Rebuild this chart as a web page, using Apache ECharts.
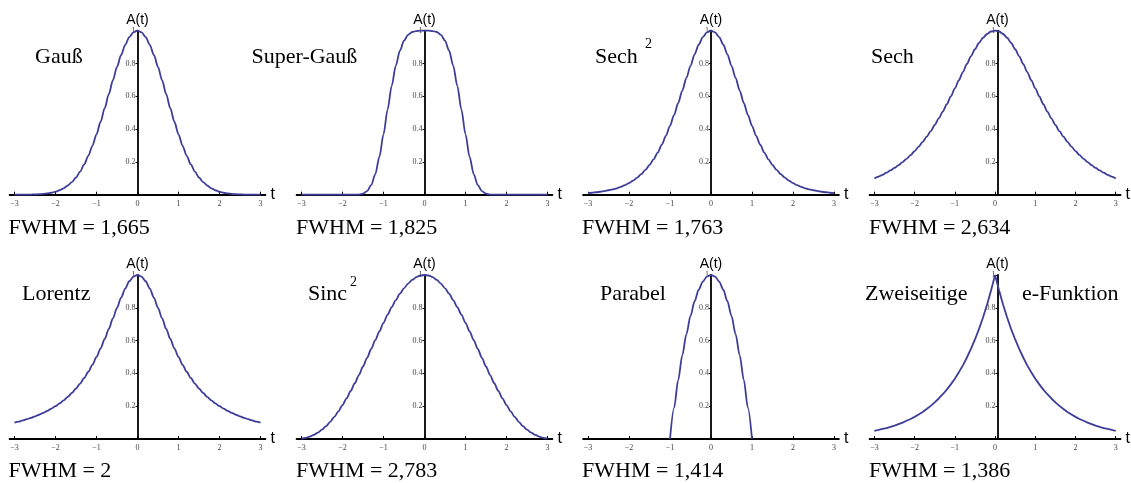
<!DOCTYPE html>
<html>
<head>
<meta charset="utf-8">
<title>Pulsformen</title>
<script src="https://cdn.jsdelivr.net/npm/echarts@6/dist/echarts.min.js"></script>
<style>
  html, body { margin: 0; padding: 0; background: #fff; }
  #chart { width: 1131px; height: 483px; }
</style>
</head>
<body>
<div id="chart"></div>
<script>
// Time axis samples, t = -3 ... 3
const tValues = [-3.0, -2.9, -2.8, -2.7, -2.6, -2.5, -2.4, -2.3, -2.2, -2.1,
  -2.0, -1.9, -1.8, -1.7, -1.6, -1.5, -1.4, -1.3, -1.2, -1.1,
  -1.0, -0.9, -0.8, -0.7, -0.6, -0.5, -0.4, -0.3, -0.2, -0.1,
  0.0, 0.1, 0.2, 0.3, 0.4, 0.5, 0.6, 0.7, 0.8, 0.9,
  1.0, 1.1, 1.2, 1.3, 1.4, 1.5, 1.6, 1.7, 1.8, 1.9,
  2.0, 2.1, 2.2, 2.3, 2.4, 2.5, 2.6, 2.7, 2.8, 2.9, 3.0];
const tParabel = [-1.0, -0.9, -0.8, -0.7, -0.6, -0.5, -0.4, -0.3, -0.2, -0.1,
  0.0, 0.1, 0.2, 0.3, 0.4, 0.5, 0.6, 0.7, 0.8, 0.9, 1.0];

// Pulse amplitudes A(t)
const gauss = [0, 0, 0, 0.001, 0.001, 0.002, 0.003, 0.005, 0.008, 0.012,
  0.018, 0.027, 0.039, 0.056, 0.077, 0.105, 0.141, 0.185, 0.237, 0.298,
  0.368, 0.445, 0.527, 0.613, 0.698, 0.779, 0.852, 0.914, 0.961, 0.990,
  1,
  0.990, 0.961, 0.914, 0.852, 0.779, 0.698, 0.613, 0.527, 0.445, 0.368,
  0.298, 0.237, 0.185, 0.141, 0.105, 0.077, 0.056, 0.039, 0.027, 0.018,
  0.012, 0.008, 0.005, 0.003, 0.002, 0.001, 0.001, 0, 0, 0];
const superGauss = [0, 0, 0, 0, 0, 0, 0, 0, 0, 0,
  0, 0, 0, 0, 0.001, 0.006, 0.022, 0.058, 0.126, 0.231,
  0.368, 0.519, 0.664, 0.787, 0.878, 0.939, 0.975, 0.992, 0.998, 1.000,
  1,
  1.000, 0.998, 0.992, 0.975, 0.939, 0.878, 0.787, 0.664, 0.519, 0.368,
  0.231, 0.126, 0.058, 0.022, 0.006, 0.001, 0, 0, 0, 0,
  0, 0, 0, 0, 0, 0, 0, 0, 0, 0];
const sech2 = [0.010, 0.012, 0.015, 0.018, 0.022, 0.027, 0.032, 0.039, 0.048, 0.058,
  0.071, 0.086, 0.104, 0.125, 0.151, 0.181, 0.216, 0.257, 0.305, 0.359,
  0.420, 0.487, 0.559, 0.635, 0.712, 0.786, 0.856, 0.915, 0.961, 0.990,
  1,
  0.990, 0.961, 0.915, 0.856, 0.786, 0.712, 0.635, 0.559, 0.487, 0.420,
  0.359, 0.305, 0.257, 0.216, 0.181, 0.151, 0.125, 0.104, 0.086, 0.071,
  0.058, 0.048, 0.039, 0.032, 0.027, 0.022, 0.018, 0.015, 0.012, 0.010];
const sech = [0.099, 0.110, 0.121, 0.134, 0.148, 0.163, 0.180, 0.199, 0.219, 0.241,
  0.266, 0.293, 0.322, 0.354, 0.388, 0.425, 0.465, 0.507, 0.552, 0.599,
  0.648, 0.698, 0.748, 0.797, 0.844, 0.887, 0.925, 0.957, 0.980, 0.995,
  1,
  0.995, 0.980, 0.957, 0.925, 0.887, 0.844, 0.797, 0.748, 0.698, 0.648,
  0.599, 0.552, 0.507, 0.465, 0.425, 0.388, 0.354, 0.322, 0.293, 0.266,
  0.241, 0.219, 0.199, 0.180, 0.163, 0.148, 0.134, 0.121, 0.110, 0.099];
const lorentz = [0.100, 0.106, 0.113, 0.121, 0.129, 0.138, 0.148, 0.159, 0.171, 0.185,
  0.200, 0.217, 0.236, 0.257, 0.281, 0.308, 0.338, 0.372, 0.410, 0.452,
  0.500, 0.552, 0.610, 0.671, 0.735, 0.800, 0.862, 0.917, 0.962, 0.990,
  1,
  0.990, 0.962, 0.917, 0.862, 0.800, 0.735, 0.671, 0.610, 0.552, 0.500,
  0.452, 0.410, 0.372, 0.338, 0.308, 0.281, 0.257, 0.236, 0.217, 0.200,
  0.185, 0.171, 0.159, 0.148, 0.138, 0.129, 0.121, 0.113, 0.106, 0.100];
const sinc2 = [0.002, 0.007, 0.014, 0.025, 0.039, 0.057, 0.079, 0.105, 0.135, 0.169,
  0.207, 0.248, 0.293, 0.340, 0.390, 0.442, 0.495, 0.549, 0.603, 0.656,
  0.708, 0.758, 0.804, 0.847, 0.886, 0.919, 0.948, 0.970, 0.987, 0.997,
  1,
  0.997, 0.987, 0.970, 0.948, 0.919, 0.886, 0.847, 0.804, 0.758, 0.708,
  0.656, 0.603, 0.549, 0.495, 0.442, 0.390, 0.340, 0.293, 0.248, 0.207,
  0.169, 0.135, 0.105, 0.079, 0.057, 0.039, 0.025, 0.014, 0.007, 0.002];
const parabel = [0, 0.19, 0.36, 0.51, 0.64, 0.75, 0.84, 0.91, 0.96, 0.99,
  1,
  0.99, 0.96, 0.91, 0.84, 0.75, 0.64, 0.51, 0.36, 0.19, 0];
const zweiseitig = [0.050, 0.055, 0.061, 0.067, 0.074, 0.082, 0.091, 0.100, 0.111, 0.122,
  0.135, 0.150, 0.165, 0.183, 0.202, 0.223, 0.247, 0.273, 0.301, 0.333,
  0.368, 0.407, 0.449, 0.497, 0.549, 0.607, 0.670, 0.741, 0.819, 0.905,
  1,
  0.905, 0.819, 0.741, 0.670, 0.607, 0.549, 0.497, 0.449, 0.407, 0.368,
  0.333, 0.301, 0.273, 0.247, 0.223, 0.202, 0.183, 0.165, 0.150, 0.135,
  0.122, 0.111, 0.100, 0.091, 0.082, 0.074, 0.067, 0.061, 0.055, 0.050];

// Tick labels
const xTicks = [-3, -2, -1, 0, 1, 2, 3];
const yTicks = [0.2, 0.4, 0.6, 0.8, 1];

// Panel texts
const names = ['Gauß', 'Super-Gauß', 'Sech', 'Sech', 'Lorentz', 'Sinc', 'Parabel', 'Zweiseitige'];
const fwhmLabels = ['FWHM = 1,665', 'FWHM = 1,825', 'FWHM = 1,763', 'FWHM = 2,634',
  'FWHM = 2', 'FWHM = 2,783', 'FWHM = 1,414', 'FWHM = 1,386'];

// Panels in reading order: x samples, amplitudes, straight segments for the cusp
const panels = [
  { t: tValues, a: gauss, smooth: true },
  { t: tValues, a: superGauss, smooth: true },
  { t: tValues, a: sech2, smooth: true },
  { t: tValues, a: sech, smooth: true },
  { t: tValues, a: lorentz, smooth: true },
  { t: tValues, a: sinc2, smooth: true },
  { t: tParabel, a: parabel, smooth: true },
  { t: tValues, a: zweiseitig, smooth: false }
];

// Layout
const colZero = [137.5, 424.5, 711, 997.5];   // pixel x of t = 0 per column
const rowTop = [30.7, 275];                    // pixel y of A = 1 per row
const plotH = 164;
const unit = 41;                               // pixels per t unit
const xExt = 3.12;
const titleTop = [45.8, 283.5];                // text box tops
const fwhmTop = [217.5, 460.5];
const titleX = [35, 251.5, 595, 871, 22, 308, 600, 865];
const fwhmX = [8.5, 296, 582, 869, 8.5, 296, 582, 869];

const curveColor = '#3d3d99';
const serif = '"Liberation Serif", "DejaVu Serif", serif';
const sans = '"Liberation Sans", Arial, sans-serif';

const grids = [], xAxes = [], yAxes = [], series = [], graphics = [];

function textItem(x, y, str, size) {
  return { type: 'text', left: x, top: y, z: 10,
    style: { text: str, font: size + 'px ' + serif, fill: '#000' } };
}

panels.forEach((p, i) => {
  const col = i % 4, row = Math.floor(i / 4);
  grids.push({
    left: colZero[col] - xExt * unit,
    top: rowTop[row],
    width: 2 * xExt * unit,
    height: plotH,
    containLabel: false
  });
  xAxes.push({
    type: 'value', gridIndex: i, min: -xExt, max: xExt,
    name: 't', nameLocation: 'end', nameGap: 5,
    nameTextStyle: { fontFamily: sans, fontSize: 16, color: '#000' },
    axisLine: { onZero: true, lineStyle: { color: '#000', width: 1.8 } },
    axisTick: { show: true, inside: true, length: 3, customValues: xTicks,
      lineStyle: { color: '#000', width: 1 } },
    axisLabel: { customValues: xTicks, fontFamily: serif, fontSize: 8, color: '#444', margin: 5,
      formatter: v => String(v).replace('-', '\u2212') },
    splitLine: { show: false }
  });
  // vertical axis drawn through t = 0
  yAxes.push({
    type: 'value', gridIndex: i, min: 0, max: 1,
    position: 'left', offset: -xExt * unit,
    name: 'A(t)', nameLocation: 'end', nameGap: 3,
    nameTextStyle: { fontFamily: sans, fontSize: 14, color: '#000' },
    axisLine: { onZero: false, lineStyle: { color: '#000', width: 1.8 } },
    axisTick: { show: true, length: 2, customValues: yTicks,
      lineStyle: { color: '#000', width: 1 } },
    axisLabel: { customValues: yTicks, fontFamily: serif, fontSize: 8, color: '#444', margin: 2 },
    splitLine: { show: false }
  });
  series.push({
    type: 'line', xAxisIndex: i, yAxisIndex: i,
    data: p.t.map((t, k) => [t, p.a[k]]),
    smooth: p.smooth ? 0.3 : false,
    smoothMonotone: 'x',
    showSymbol: false, clip: false, z: 5,
    lineStyle: { color: curveColor, width: 1.8 }
  });
  graphics.push(textItem(titleX[i], titleTop[row], names[i], 22));
  graphics.push(textItem(fwhmX[i], fwhmTop[row], fwhmLabels[i], 22));
});

// Exponents and the second half of the two-sided title
graphics.push(
  textItem(645, 37, '2', 14),
  textItem(350, 275, '2', 14),
  textItem(1022, titleTop[1], 'e-Funktion', 22)
);

const chart = echarts.init(document.getElementById('chart'), null, { renderer: 'canvas' });
chart.setOption({
  animation: false,
  backgroundColor: '#fff',
  grid: grids,
  xAxis: xAxes,
  yAxis: yAxes,
  series: series,
  graphic: graphics
});
</script>
</body>
</html>
